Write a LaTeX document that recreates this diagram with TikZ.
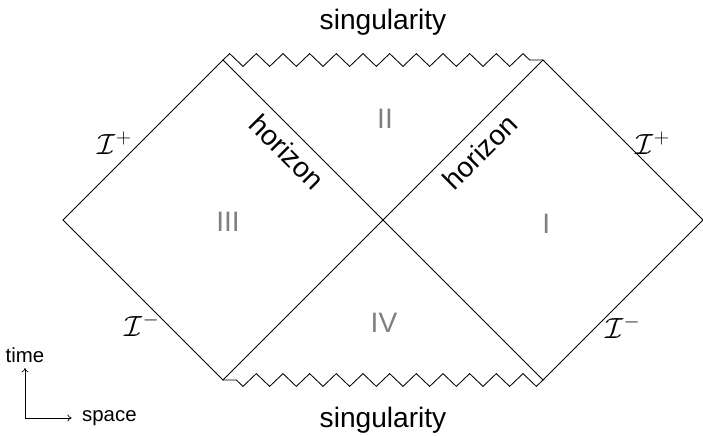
\documentclass[tikz,border=0pt]{standalone}
\usepackage{fontspec}
\setmainfont{Liberation Sans}
\usetikzlibrary{arrows.meta, decorations.pathmorphing}

\begin{document}
\begin{tikzpicture}[
    edge/.style={line width=0.6pt},
    sing/.style={line width=0.6pt,decorate,
                 decoration={zigzag,segment length=0.6667cm,amplitude=0.16cm}},
    region/.style={font=\fontsize{20}{24}\selectfont,text=black!50},
    lbl/.style={font=\fontsize{20}{24}\selectfont},
    scri/.style={font=\fontsize{20}{24}\selectfont,inner sep=0pt},
    small/.style={font=\fontsize{14.5}{17}\selectfont},
    axis/.style={-{To[length=3pt,width=5pt]},line width=0.5pt}]
    \useasboundingbox (-9.575,-5.375) rectangle (8,5.5);

    % Corners
    \coordinate (tl) at (-4,4);
    \coordinate (tr) at (4,4);
    \coordinate (bl) at (-4,-4);
    \coordinate (br) at (4,-4);
    \coordinate (left) at (-8,0);
    \coordinate (right) at (8,0);

    % Null boundaries and horizons
    \draw[edge] (left) -- (tl) -- (br) -- (right) -- (tr) -- (bl) -- cycle;

    % Singularities
    \draw[sing] (tl) -- (tr);
    \draw[sing] (br) -- (bl);
    \node[lbl] (stop) at (0,4.95) {singularity};
    \node[lbl] (sbot) at (0,-5.0) {singularity};

    % Regions
    \foreach \r/\x/\y in {I/4.08/-0.1, II/0.05/2.52, III/-3.875/-0.05, IV/0.025/-2.57}
      \node[region] (reg\r) at (\x,\y) {\r};

    % Horizons
    \node[lbl,rotate=-45] (hleft) at (-2.4,1.7) {horizon};
    \node[lbl,rotate=45] (hright) at (2.425,1.7) {horizon};

    % Null infinity
    \node[scri] (scrplusL) at (-6.7,1.925) {$\mathcal{I}^+$};
    \node[scri] (scrplusR) at (6.75,1.925) {$\mathcal{I}^+$};
    \node[scri] (scrminL) at (-6.025,-2.625) {$\mathcal{I}^-$};
    \node[scri] (scrminR) at (6.0,-2.675) {$\mathcal{I}^-$};

    % Axes
    \coordinate (ax) at (-8.95,-4.95);
    \node[small] (time) at (-8.95,-3.39) {time};
    \node[small] (space) at (-6.84,-4.95) {space};
    \draw[axis] (ax) -- (time.south);
    \draw[axis,shorten >=4pt] (ax) -- (space.west);
\end{tikzpicture}
\end{document}
